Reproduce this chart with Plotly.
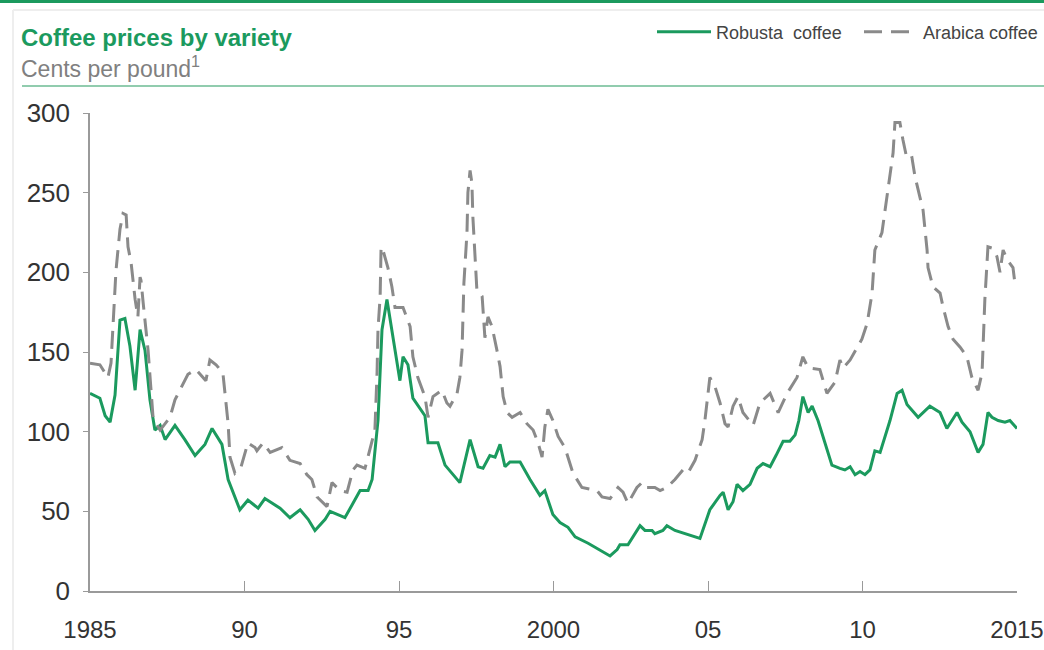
import plotly.graph_objects as go

# ---------------- data ----------------
robusta_year = [1985.0, 1985.32, 1985.49, 1985.65, 1985.81, 1985.97, 1986.13, 1986.29, 1986.46, 1986.62,
                1986.78, 1986.94, 1987.10, 1987.27, 1987.43, 1987.75, 1988.07, 1988.40, 1988.72, 1988.95,
                1989.27, 1989.47, 1989.85, 1990.11, 1990.44, 1990.66, 1991.15, 1991.47, 1991.80, 1992.06,
                1992.28, 1992.61, 1992.77, 1993.25, 1993.48, 1993.74, 1994.0, 1994.13, 1994.32, 1994.45,
                1994.61, 1994.87, 1995.03, 1995.13, 1995.29, 1995.45, 1995.68, 1995.84, 1995.94, 1996.26,
                1996.49, 1996.97, 1997.30, 1997.56, 1997.72, 1997.94, 1998.11, 1998.27, 1998.43, 1998.59,
                1998.92, 1999.24, 1999.56, 1999.72, 1999.98, 2000.21, 2000.47, 2000.70, 2001.12, 2001.50,
                2001.83, 2002.06, 2002.15, 2002.41, 2002.80, 2002.96, 2003.19, 2003.28, 2003.54, 2003.67,
                2003.93, 2004.74, 2005.06, 2005.39, 2005.49, 2005.65, 2005.81, 2005.94, 2006.13, 2006.36,
                2006.59, 2006.78, 2007.01, 2007.20, 2007.43, 2007.65, 2007.82, 2007.94, 2008.07, 2008.24,
                2008.37, 2008.56, 2008.79, 2009.01, 2009.27, 2009.43, 2009.60, 2009.76, 2009.92, 2010.08,
                2010.24, 2010.40, 2010.57, 2010.89, 2011.12, 2011.28, 2011.44, 2011.80, 2012.18, 2012.51,
                2012.73, 2013.06, 2013.22, 2013.48, 2013.74, 2013.90, 2014.06, 2014.19, 2014.39, 2014.61,
                2014.77, 2015.0]
robusta_price = [124, 121, 110, 106, 123, 170, 171, 154, 126, 164,
                 151, 120, 101, 104, 95, 104, 95, 85, 92, 102,
                 92, 70, 51, 57, 52, 58, 52, 46, 51, 45,
                 38, 45, 50, 46, 54, 63, 63, 70, 107, 164,
                 183, 151, 132, 147, 142, 121, 114, 110, 93, 93,
                 79, 68, 95, 78, 77, 85, 84, 92, 78, 81,
                 81, 70, 60, 63, 48, 43, 40, 34, 30, 26,
                 22, 26, 29, 29, 41, 38, 38, 36, 38, 41,
                 38, 33, 51, 60, 62, 51, 56, 67, 63, 67,
                 77, 80, 78, 85, 94, 94, 98, 107, 122, 112,
                 116, 107, 92, 79, 77, 76, 78, 73, 75, 73,
                 76, 88, 87, 107, 124, 126, 117, 109, 116, 112,
                 102, 112, 106, 100, 87, 92, 112, 109, 107, 106,
                 107, 102]

arabica_year = [1985.0, 1985.32, 1985.58, 1985.68, 1985.84, 1985.97, 1986.07, 1986.17, 1986.23, 1986.33,
                1986.46, 1986.55, 1986.62, 1986.65, 1986.72, 1986.81, 1986.88, 1987.04, 1987.14, 1987.27,
                1987.43, 1987.59, 1987.75, 1988.01, 1988.17, 1988.43, 1988.75, 1988.88, 1989.08, 1989.30,
                1989.37, 1989.47, 1989.53, 1989.69, 1989.89, 1990.11, 1990.34, 1990.40, 1990.60, 1990.83,
                1991.21, 1991.47, 1991.80, 1992.02, 1992.18, 1992.35, 1992.67, 1992.83, 1993.09, 1993.32,
                1993.51, 1993.64, 1993.90, 1994.13, 1994.22, 1994.29, 1994.32, 1994.39, 1994.42, 1994.48,
                1994.64, 1994.77, 1994.87, 1995.13, 1995.36, 1995.45, 1995.61, 1995.84, 1995.94, 1996.10,
                1996.39, 1996.55, 1996.65, 1996.88, 1996.97, 1997.04, 1997.10, 1997.20, 1997.23, 1997.30,
                1997.36, 1997.39, 1997.46, 1997.52, 1997.69, 1997.78, 1997.88, 1998.01, 1998.17, 1998.27,
                1998.37, 1998.50, 1998.66, 1998.92, 1999.14, 1999.34, 1999.50, 1999.63, 1999.72, 1999.82,
                1999.98, 2000.15, 2000.37, 2000.47, 2000.63, 2000.92, 2001.41, 2001.57, 2001.83, 2002.09,
                2002.25, 2002.41, 2002.70, 2002.86, 2002.96, 2003.28, 2003.45, 2003.67, 2003.93, 2004.19,
                2004.35, 2004.58, 2004.81, 2004.90, 2004.97, 2005.06, 2005.23, 2005.39, 2005.55, 2005.65,
                2005.81, 2005.97, 2006.13, 2006.46, 2006.68, 2007.01, 2007.27, 2007.56, 2007.88, 2008.07,
                2008.24, 2008.62, 2008.85, 2009.11, 2009.27, 2009.37, 2009.60, 2009.98, 2010.15, 2010.31,
                2010.40, 2010.63, 2010.73, 2010.89, 2010.99, 2011.05, 2011.21, 2011.31, 2011.44, 2011.60,
                2011.70, 2011.86, 2011.96, 2012.09, 2012.12, 2012.28, 2012.51, 2012.61, 2012.77, 2012.93,
                2013.16, 2013.38, 2013.54, 2013.74, 2013.87, 2013.96, 2014.03, 2014.06, 2014.22, 2014.35,
                2014.45, 2014.55, 2014.68, 2014.87, 2014.94]
arabica_price = [143, 142, 134, 143, 201, 227, 237, 236, 216, 206,
                 183, 172, 197, 195, 181, 166, 151, 109, 105, 101,
                 105, 109, 120, 130, 136, 139, 132, 145, 142, 137,
                 122, 105, 84, 74, 78, 93, 90, 88, 93, 87,
                 90, 82, 80, 73, 70, 59, 53, 68, 63, 62,
                 76, 79, 77, 93, 101, 137, 164, 185, 216, 214,
                 203, 191, 178, 178, 166, 147, 134, 122, 109, 122,
                 126, 118, 116, 124, 134, 151, 193, 225, 250, 264,
                 256, 235, 208, 189, 185, 159, 172, 166, 151, 141,
                 122, 112, 109, 112, 105, 101, 93, 84, 103, 114,
                 107, 97, 90, 84, 74, 65, 63, 59, 58, 65,
                 62, 55, 65, 68, 65, 65, 63, 65, 70, 76,
                 74, 82, 95, 107, 120, 134, 128, 118, 105, 103,
                 116, 122, 112, 104, 118, 124, 112, 124, 134, 147,
                 140, 139, 124, 131, 145, 140, 145, 158, 168, 187,
                 214, 225, 239, 260, 275, 294, 294, 283, 271, 272,
                 260, 247, 239, 214, 203, 191, 187, 178, 166, 158,
                 153, 147, 134, 126, 137, 183, 208, 216, 215, 210,
                 200, 214, 208, 203, 192]

x_tick_vals = [1985, 1990, 1995, 2000, 2005, 2010, 2015]
x_tick_text = ["1985", "90", "95", "2000", "05", "10", "2015"]
y_tick_vals = [0, 50, 100, 150, 200, 250, 300]

title_text = "Coffee prices by variety"
subtitle_text = "Cents per pound<sup>1</sup>"
series_names = ["Robusta  coffee", "Arabica coffee"]

# ---------------- style ----------------
W, H = 1044, 650
ML, MR, MT, MB = 90, 27, 113, 59
PW, PH = W - ML - MR, H - MT - MB
GREEN = "#1b9a5e"
GREY_LINE = "#8a8a8a"
FONT = "Liberation Sans, Arial, sans-serif"


def px_x(p):
    return (p - ML) / PW


def px_y(p):
    return 1 - (p - MT) / PH


fig = go.Figure()
fig.add_trace(go.Scatter(x=robusta_year, y=robusta_price, mode="lines", name=series_names[0],
                         line=dict(color=GREEN, width=3)))
fig.add_trace(go.Scatter(x=arabica_year, y=arabica_price, mode="lines", name=series_names[1],
                         line=dict(color=GREY_LINE, width=3, dash="18px,9px")))

fig.update_layout(
    width=W, height=H,
    margin=dict(l=ML, r=MR, t=MT, b=MB, autoexpand=False),
    paper_bgcolor="white", plot_bgcolor="white",
    font=dict(family=FONT, color="#333333"),
    showlegend=True,
    legend=dict(orientation="h", xref="container", yref="container",
                x=652 / W, xanchor="left", y=1 - 32 / H, yanchor="middle",
                font=dict(size=18, color="#444444"), itemwidth=54,
                entrywidth=138, entrywidthmode="pixels",
                bgcolor="rgba(0,0,0,0)", tracegroupgap=0),
    xaxis=dict(range=[1985, 2015], tickmode="array", tickvals=x_tick_vals, ticktext=x_tick_text,
               showgrid=False, zeroline=False, showline=True, linecolor="#9a9a9a", linewidth=1.5,
               ticks="inside", ticklen=10, tickcolor="#9a9a9a", tickwidth=1,
               tickfont=dict(size=24, color="#333333"), ticklabelstandoff=16,
               ticklabeloverflow="allow"),
    yaxis=dict(range=[0, 300], tickmode="array", tickvals=y_tick_vals,
               showgrid=False, zeroline=False, showline=True, linecolor="#9a9a9a", linewidth=1.5,
               ticks="outside", ticklen=5, tickcolor="#9a9a9a", tickwidth=1,
               tickfont=dict(size=26, color="#333333"), ticklabelstandoff=8,
               ticklabeloverflow="allow"),
    annotations=[
        dict(text="<b>" + title_text + "</b>", xref="paper", yref="paper", x=px_x(19), y=px_y(38),
             xanchor="left", yanchor="middle", showarrow=False, font=dict(size=24, color=GREEN)),
        dict(text=subtitle_text, xref="paper", yref="paper", x=px_x(19), y=px_y(67),
             xanchor="left", yanchor="middle", showarrow=False, font=dict(size=23, color="#808080")),
    ],
    shapes=[
        dict(type="line", xref="paper", yref="paper", x0=px_x(0), x1=px_x(W), y0=px_y(1.5), y1=px_y(1.5),
             line=dict(color=GREEN, width=3)),
        dict(type="line", xref="paper", yref="paper", x0=px_x(13), x1=px_x(W), y0=px_y(10), y1=px_y(10),
             line=dict(color="#eeeeee", width=2)),
        dict(type="line", xref="paper", yref="paper", x0=px_x(13), x1=px_x(13), y0=px_y(10), y1=px_y(H),
             line=dict(color="#eeeeee", width=2)),
        dict(type="line", xref="paper", yref="paper", x0=px_x(22), x1=px_x(W), y0=px_y(86), y1=px_y(86),
             line=dict(color="#6dbb93", width=1.5)),
    ],
)

fig.write_html("out.html", config={"displayModeBar": False},
               post_script="document.body.style.margin='0px';")
